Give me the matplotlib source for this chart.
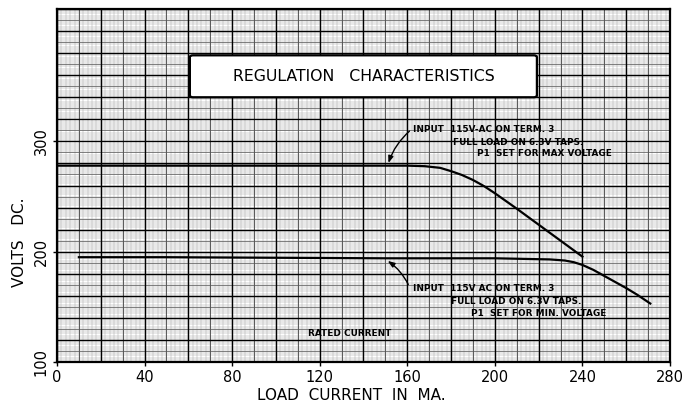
import numpy as np
import matplotlib
matplotlib.use("Agg")
import matplotlib.pyplot as plt
from matplotlib.patches import FancyBboxPatch

# ---- data ----
upper_x = [0, 40, 80, 120, 160, 168, 175, 180, 185, 190, 195, 200, 210, 220, 230, 240]
upper_y = [278, 278, 278, 278, 278, 277.5, 276, 273, 269.5, 265, 259.5, 253, 239, 224.5, 210, 195.5]

lower_x = [10, 50, 100, 150, 200, 225, 232, 236, 240, 245, 250, 255, 260, 265, 271]
lower_y = [195, 195, 194.5, 194, 194, 193, 192, 190.5, 188, 183.5, 178, 172.5, 167, 161, 153]

x_ticks = [0, 40, 80, 120, 160, 200, 240, 280]
x_tick_labels = ["0", "40", "80", "120", "160", "200", "240", "280"]
y_ticks = [100, 200, 300]
y_tick_labels = ["100", "200", "300"]

title_text = "REGULATION   CHARACTERISTICS"
x_label = "LOAD  CURRENT  IN  MA."
y_label = "VOLTS   DC."
upper_note = ["INPUT  115V-AC ON TERM. 3", "FULL LOAD ON 6.3V TAPS.", "P1  SET FOR MAX VOLTAGE"]
lower_note = ["INPUT  115V AC ON TERM. 3", "FULL LOAD ON 6.3V TAPS.", "P1  SET FOR MIN. VOLTAGE"]
rated_text = "RATED CURRENT"

# ---- figure ----
fig = plt.figure(figsize=(6.94, 4.12), dpi=100)
ax = fig.add_axes([57 / 694, 1 - 362 / 412, (670 - 57) / 694, (362 - 9) / 412])
ax.set_xlim(0, 280)
ax.set_ylim(100, 420)

# graph-paper grid
for v in np.arange(0, 281, 2):
    ax.axvline(v, color="#a8a8a8", lw=0.35, zorder=0)
for v in np.arange(100, 421, 2):
    ax.axhline(v, color="#a8a8a8", lw=0.35, zorder=0)
for v in np.arange(0, 281, 10):
    ax.axvline(v, color="#444444", lw=0.6, zorder=0.5)
for v in np.arange(100, 421, 10):
    ax.axhline(v, color="#555555", lw=0.5, zorder=0.5)
for v in np.arange(0, 281, 20):
    ax.axvline(v, color="black", lw=1.0, zorder=0.6)
for v in np.arange(100, 421, 20):
    ax.axhline(v, color="black", lw=1.0, zorder=0.6)

for s in ax.spines.values():
    s.set_linewidth(1.6)

# curves
ax.plot(upper_x, upper_y, color="black", lw=1.6, zorder=3)
ax.plot(lower_x, lower_y, color="black", lw=1.6, zorder=3)

# ticks
ax.set_xticks(x_ticks)
ax.set_xticklabels(x_tick_labels, fontsize=10.5)
ax.set_yticks(y_ticks)
ax.set_yticklabels(y_tick_labels, fontsize=10.5, rotation=90, va="center")
ax.tick_params(axis="both", length=3, width=1, pad=3)

# axis labels
fig.text(351 / 694, 1 - 396 / 412, x_label, ha="center", va="center", fontsize=11)
fig.text(20 / 694, 1 - 242 / 412, y_label, ha="center", va="center", fontsize=11, rotation=90)

# title box
box = FancyBboxPatch((60.7, 340), 158.5, 38, boxstyle="round,pad=0,rounding_size=1.5",
                     facecolor="white", edgecolor="black", lw=1.6, zorder=4,
                     mutation_aspect=1)
ax.add_patch(box)
ax.text(140, 359, title_text, ha="center", va="center", fontsize=11.3, zorder=5)

# annotations
fs = 6.4
ax.text(162.5, 311, upper_note[0], fontsize=fs, fontweight="bold", va="center", zorder=5)
ax.text(181, 299, upper_note[1], fontsize=fs, fontweight="bold", va="center", zorder=5)
ax.text(192, 289, upper_note[2], fontsize=fs, fontweight="bold", va="center", zorder=5)
ax.annotate("", xy=(151, 278), xytext=(162, 311),
            arrowprops=dict(arrowstyle="-|>,head_length=0.4,head_width=0.15", color="black",
                            lw=1.0, connectionstyle="arc3,rad=0.15"), zorder=5)

ax.text(162.5, 167, lower_note[0], fontsize=fs, fontweight="bold", va="center", zorder=5)
ax.text(180, 155, lower_note[1], fontsize=fs, fontweight="bold", va="center", zorder=5)
ax.text(189, 144, lower_note[2], fontsize=fs, fontweight="bold", va="center", zorder=5)
ax.annotate("", xy=(150, 193), xytext=(161, 168),
            arrowprops=dict(arrowstyle="-|>,head_length=0.4,head_width=0.15", color="black",
                            lw=1.0, connectionstyle="arc3,rad=0.15"), zorder=5)

ax.text(133.5, 126, rated_text, fontsize=fs, fontweight="bold", ha="center", va="center", zorder=5)

fig.savefig("out.png", dpi=100)
